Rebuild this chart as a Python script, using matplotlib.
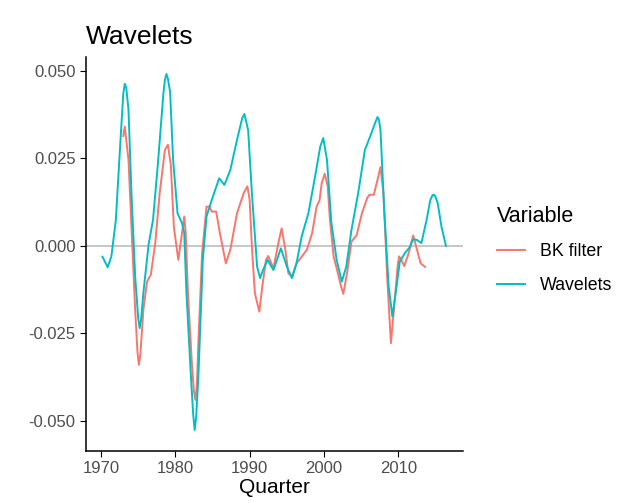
import numpy as np
import matplotlib
matplotlib.use("Agg")
import matplotlib.pyplot as plt

plt.rcParams['font.family'] = ['Liberation Sans', 'DejaVu Sans']

# Wavelets series (quarter, value)
wav_year = [1970.2, 1970.9, 1971.4, 1972.0, 1972.6, 1973.0, 1973.2, 1973.4, 1973.7, 1974.1,
            1974.6, 1975.0, 1975.2, 1975.4, 1975.7, 1976.4, 1977.0, 1977.7, 1978.4, 1978.6,
            1978.8, 1979.0, 1979.3, 1979.7, 1980.3, 1980.9, 1981.2, 1981.5, 1982.1, 1982.4,
            1982.6, 1982.8, 1983.1, 1983.7, 1984.2, 1984.9, 1985.9, 1986.6, 1987.4, 1988.3,
            1989.0, 1989.3, 1989.8, 1990.3, 1991.0, 1991.4, 1991.8, 1992.4, 1993.2, 1994.2,
            1995.0, 1995.7, 1996.3, 1997.0, 1997.9, 1998.8, 1999.5, 1999.9, 2000.4, 2001.0,
            2001.7, 2002.4, 2003.0, 2003.7, 2004.6, 2005.5, 2006.2, 2006.7, 2007.0, 2007.2,
            2007.4, 2007.6, 2008.1, 2008.7, 2009.2, 2009.7, 2010.2, 2010.9, 2011.5, 2012.0,
            2012.5, 2013.1, 2013.8, 2014.3, 2014.6, 2014.8, 2015.0, 2015.3, 2015.8, 2016.4]
wav_val = [-0.0031, -0.0061, -0.0030, 0.0074, 0.0293, 0.0435, 0.0463, 0.0452, 0.0389, 0.0151,
           -0.0088, -0.0205, -0.0235, -0.0210, -0.0135, 0.0003, 0.0074, 0.0246, 0.0436, 0.0474,
           0.0491, 0.0478, 0.0440, 0.0246, 0.0093, 0.0065, 0.0037, -0.0135, -0.0373, -0.0480,
           -0.0526, -0.0490, -0.0373, -0.0040, 0.0084, 0.0131, 0.0193, 0.0174, 0.0217, 0.0303,
           0.0365, 0.0377, 0.0330, 0.0151, -0.0059, -0.0092, -0.0069, -0.0040, -0.0069, -0.0007,
           -0.0059, -0.0092, -0.0050, 0.0027, 0.0093, 0.0198, 0.0284, 0.0308, 0.0246, 0.0065,
           -0.0040, -0.0102, -0.0059, 0.0046, 0.0151, 0.0274, 0.0312, 0.0341, 0.0358, 0.0368,
           0.0360, 0.0331, 0.0103, -0.0116, -0.0202, -0.0126, -0.0045, -0.0020, -0.0005, 0.0019,
           0.0017, 0.0008, 0.0074, 0.0131, 0.0145, 0.0146, 0.0140, 0.0122, 0.0055, 0.0000]

# BK filter series
bk_year = [1973.0, 1973.2, 1973.7, 1974.1, 1974.6, 1974.9, 1975.1, 1975.3, 1975.7, 1976.2,
           1976.7, 1977.3, 1977.9, 1978.6, 1979.0, 1979.4, 1979.8, 1980.4, 1980.9, 1981.2,
           1981.4, 1981.7, 1982.2, 1982.5, 1982.7, 1982.9, 1983.1, 1983.6, 1984.2, 1984.6,
           1984.9, 1985.5, 1986.0, 1986.8, 1987.4, 1988.3, 1989.2, 1989.7, 1990.0, 1990.3,
           1990.7, 1991.3, 1991.7, 1992.2, 1992.5, 1993.2, 1993.9, 1994.3, 1994.8, 1995.2,
           1995.7, 1996.3, 1997.0, 1997.7, 1998.4, 1999.0, 1999.4, 1999.7, 2000.1, 2000.5,
           2000.8, 2001.3, 2001.7, 2002.3, 2002.6, 2003.1, 2003.7, 2004.4, 2005.1, 2005.8,
           2006.1, 2006.7, 2007.2, 2007.6, 2008.0, 2008.5, 2009.0, 2009.4, 2009.9, 2010.1,
           2010.4, 2010.8, 2011.4, 2012.0, 2012.5, 2013.0, 2013.6]
bk_val = [0.0314, 0.0341, 0.0246, 0.0055, -0.0183, -0.0300, -0.0340, -0.0310, -0.0183, -0.0102,
          -0.0083, 0.0008, 0.0151, 0.0274, 0.0289, 0.0230, 0.0055, -0.0040, 0.0036, 0.0084,
          0.0036, -0.0135, -0.0326, -0.0415, -0.0440, -0.0400, -0.0278, -0.0021, 0.0112, 0.0112,
          0.0098, 0.0098, 0.0036, -0.0050, -0.0011, 0.0093, 0.0151, 0.0170, 0.0131, -0.0002,
          -0.0135, -0.0188, -0.0116, -0.0040, -0.0029, -0.0064, 0.0012, 0.0050, -0.0011, -0.0078,
          -0.0088, -0.0050, -0.0031, -0.0011, 0.0036, 0.0112, 0.0130, 0.0180, 0.0206, 0.0170,
          0.0074, -0.0031, -0.0064, -0.0116, -0.0137, -0.0078, 0.0012, 0.0031, 0.0093, 0.0136,
          0.0146, 0.0146, 0.0189, 0.0225, 0.0151, -0.0088, -0.0278, -0.0183, -0.0059, -0.0030,
          -0.0040, -0.0058, -0.0020, 0.0030, -0.0010, -0.0050, -0.0060]

x_ticks = [1970, 1980, 1990, 2000, 2010]
y_ticks = [-0.050, -0.025, 0.000, 0.025, 0.050]
y_labels = ["-0.050", "-0.025", "0.000", "0.025", "0.050"]

fig = plt.figure(figsize=(6.24, 5.03), dpi=100)
ax = fig.add_axes([0.138, 0.1034, 0.604, 0.7836])

ax.axhline(0, color='#b8b8b8', lw=1.1, zorder=1)
ax.plot(bk_year, bk_val, color='#F8766D', lw=1.4, label='BK filter', zorder=2)
ax.plot(wav_year, wav_val, color='#00BFC4', lw=1.4, label='Wavelets', zorder=3)

ax.set_xlim(1968.0, 2018.7)
ax.set_ylim(-0.0586, 0.054)
ax.set_xticks(x_ticks)
ax.set_xticklabels([str(t) for t in x_ticks])
ax.set_yticks(y_ticks)
ax.set_yticklabels(y_labels)
ax.tick_params(labelsize=12, labelcolor='#4d4d4d', length=4, width=0.8, color='black')

for s in ['top', 'right']:
    ax.spines[s].set_visible(False)
for s in ['left', 'bottom']:
    ax.spines[s].set_linewidth(1.1)

ax.set_xlabel('Quarter', fontsize=15, labelpad=1)
ax.set_title('Wavelets', fontsize=19, loc='left', x=0.0, pad=9)

leg = ax.legend(loc='center left', bbox_to_anchor=(1.09, 0.51), frameon=False,
                title='Variable', fontsize=12.8, title_fontsize=15.5,
                handlelength=1.57, handletextpad=0.83, labelspacing=0.95,
                borderpad=0, borderaxespad=0)
leg._legend_box.align = 'left'
leg._legend_box.sep = 12

fig.savefig('out.png', dpi=100)
